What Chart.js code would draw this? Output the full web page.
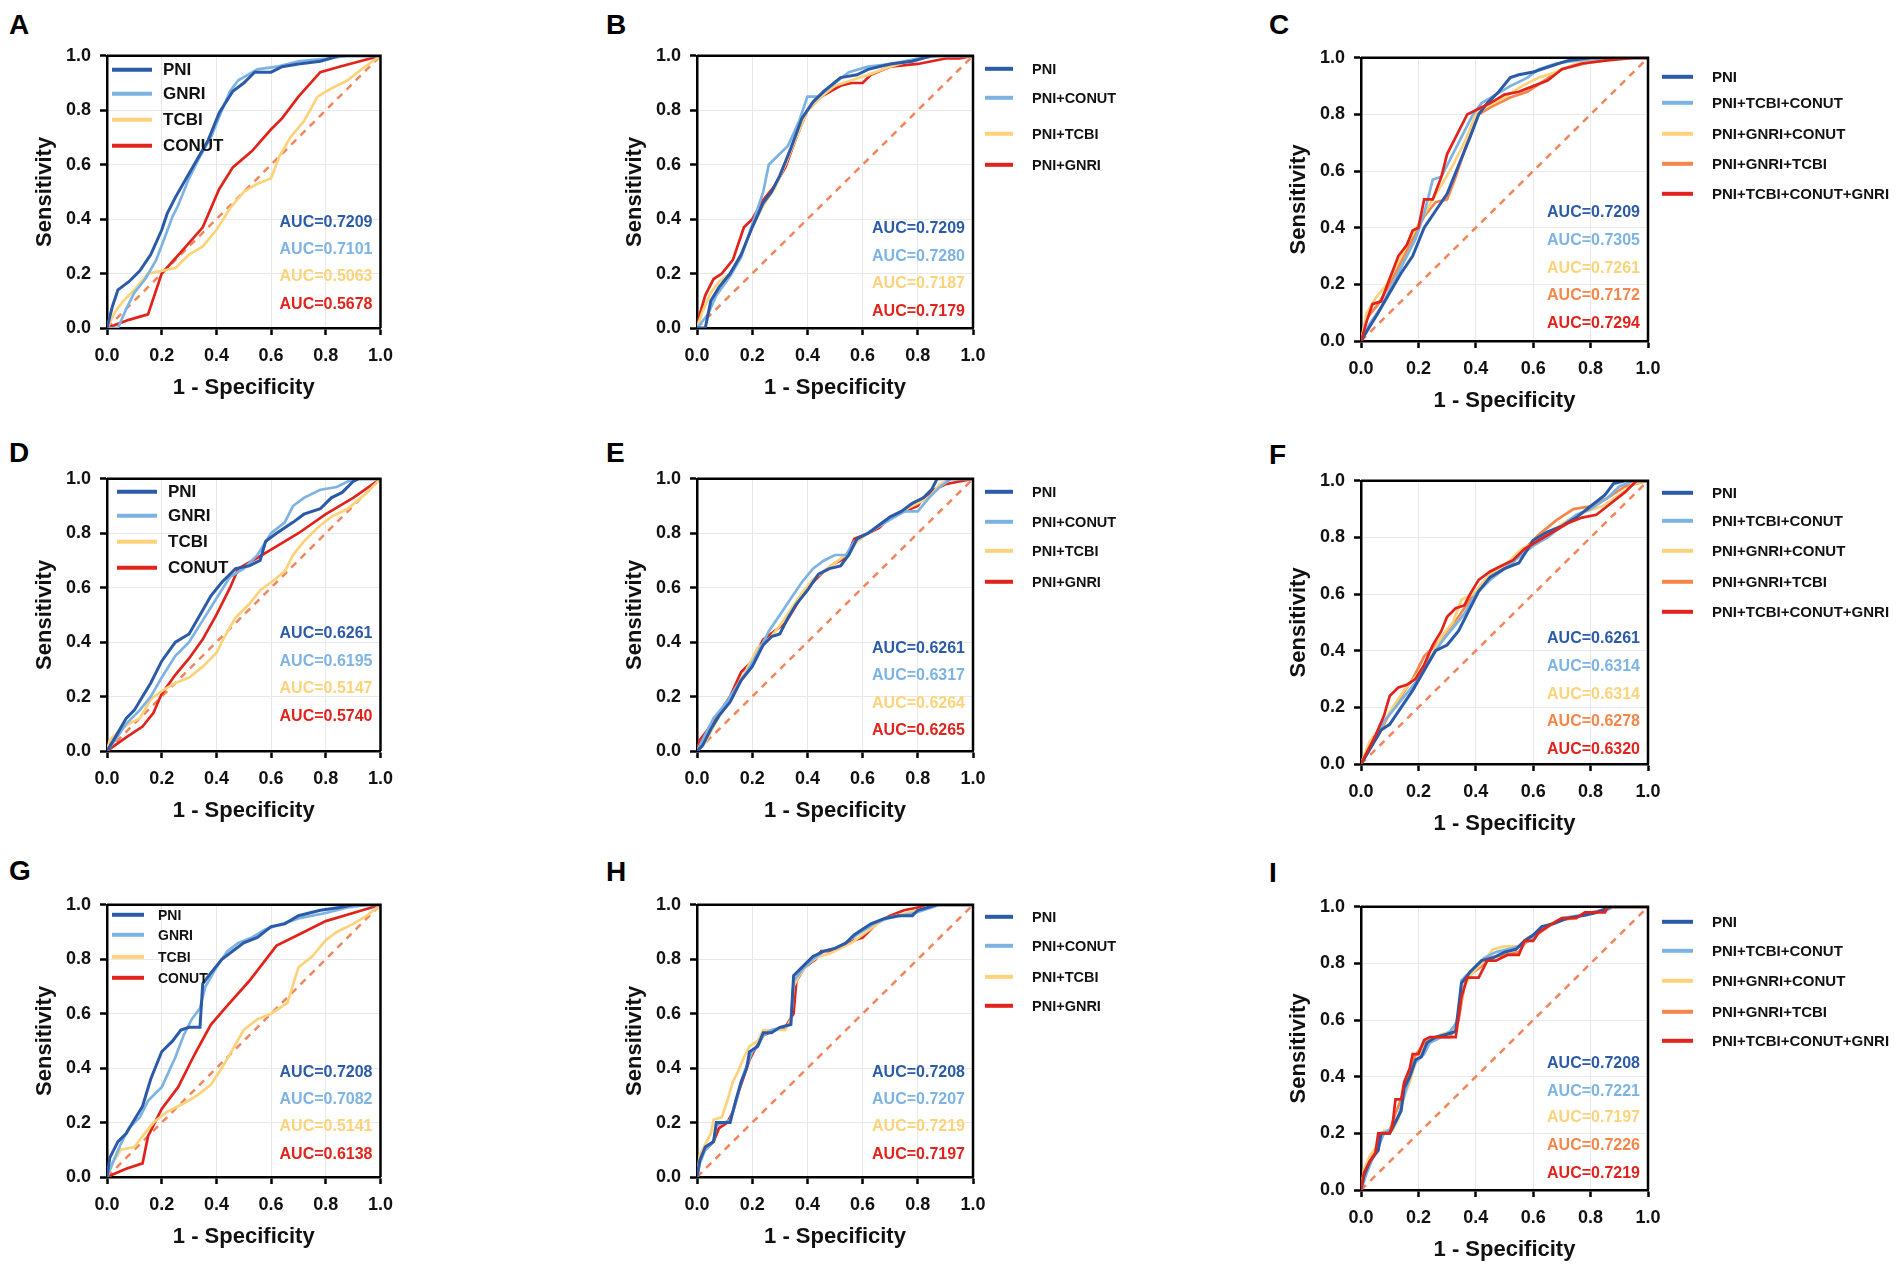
<!DOCTYPE html>
<html>
<head>
<meta charset="utf-8">
<script src="https://cdn.jsdelivr.net/npm/chart.js@4.4.1/dist/chart.umd.min.js"></script>
<style>
body { margin: 0; background: #fff; width: 1901px; height: 1273px; position: relative; overflow: hidden; font-family: Arial, "Liberation Sans", sans-serif; }
canvas { position: absolute; }
.tag { position: absolute; font-weight: bold; font-size: 28px; line-height: 28px; color: #000; }
</style>
</head>
<body>
<script>
// Series names for the three kinds of panels
const namesSingle = ['PNI', 'GNRI', 'TCBI', 'CONUT'];
const namesPair = ['PNI', 'PNI+CONUT', 'PNI+TCBI', 'PNI+GNRI'];
const namesMulti = ['PNI', 'PNI+TCBI+CONUT', 'PNI+GNRI+CONUT', 'PNI+GNRI+TCBI', 'PNI+TCBI+CONUT+GNRI'];

// AUC values printed on each panel
const aucA = ['0.7209', '0.7101', '0.5063', '0.5678'];
const aucB = ['0.7209', '0.7280', '0.7187', '0.7179'];
const aucC = ['0.7209', '0.7305', '0.7261', '0.7172', '0.7294'];
const aucD = ['0.6261', '0.6195', '0.5147', '0.5740'];
const aucE = ['0.6261', '0.6317', '0.6264', '0.6265'];
const aucF = ['0.6261', '0.6314', '0.6314', '0.6278', '0.6320'];
const aucG = ['0.7208', '0.7082', '0.5141', '0.6138'];
const aucH = ['0.7208', '0.7207', '0.7219', '0.7197'];
const aucI = ['0.7208', '0.7221', '0.7197', '0.7226', '0.7219'];

const tickValues = [0, 0.2, 0.4, 0.6, 0.8, 1.0];
const diagonal = [[0, 0], [1, 1]];

// ROC points [1 - specificity, sensitivity]
const A_pni = [[0,0],[0.02,0.08],[0.04,0.14],[0.08,0.17],[0.12,0.21],[0.16,0.27],[0.2,0.36],[0.22,0.42],[0.25,0.48],[0.29,0.55],[0.33,0.62],[0.37,0.69],[0.41,0.79],[0.46,0.87],[0.5,0.9],[0.54,0.94],[0.6,0.94],[0.64,0.96],[0.7,0.97],[0.78,0.98],[0.85,1],[1,1]];
const A_gnri = [[0,0],[0.04,0],[0.07,0.07],[0.1,0.13],[0.14,0.18],[0.18,0.25],[0.21,0.33],[0.24,0.41],[0.26,0.45],[0.3,0.55],[0.34,0.63],[0.38,0.7],[0.42,0.8],[0.45,0.87],[0.48,0.91],[0.55,0.95],[0.62,0.96],[0.7,0.98],[0.8,0.99],[0.88,1],[1,1]];
const A_tcbi = [[0,0],[0.03,0.06],[0.06,0.1],[0.1,0.14],[0.15,0.2],[0.2,0.21],[0.25,0.22],[0.3,0.27],[0.35,0.3],[0.4,0.36],[0.45,0.44],[0.5,0.5],[0.55,0.53],[0.6,0.55],[0.63,0.63],[0.67,0.7],[0.72,0.76],[0.77,0.85],[0.82,0.88],[0.88,0.91],[0.93,0.95],[1,1]];
const A_conut = [[0,0],[0.08,0.03],[0.15,0.05],[0.2,0.2],[0.28,0.29],[0.35,0.37],[0.41,0.51],[0.46,0.59],[0.53,0.65],[0.6,0.73],[0.64,0.77],[0.7,0.85],[0.78,0.94],[0.85,0.96],[1,1]];

const B_pni = [[0,0],[0.03,0],[0.05,0.1],[0.08,0.15],[0.12,0.2],[0.16,0.27],[0.2,0.37],[0.24,0.46],[0.27,0.5],[0.3,0.56],[0.34,0.66],[0.38,0.77],[0.42,0.83],[0.46,0.87],[0.52,0.92],[0.58,0.93],[0.62,0.95],[0.7,0.97],[0.78,0.98],[0.85,1],[1,1]];
const B_conut = [[0,0],[0.04,0.05],[0.07,0.12],[0.12,0.19],[0.16,0.26],[0.2,0.38],[0.24,0.5],[0.26,0.6],[0.29,0.63],[0.33,0.67],[0.37,0.76],[0.4,0.85],[0.44,0.85],[0.5,0.9],[0.55,0.94],[0.62,0.96],[0.7,0.97],[0.8,0.99],[0.88,1],[1,1]];
const B_tcbi = [[0,0],[0.02,0.06],[0.05,0.13],[0.08,0.17],[0.12,0.2],[0.16,0.27],[0.2,0.37],[0.24,0.45],[0.28,0.51],[0.32,0.6],[0.36,0.7],[0.4,0.8],[0.45,0.85],[0.5,0.89],[0.56,0.91],[0.62,0.93],[0.7,0.96],[0.8,0.99],[0.83,1],[1,1]];
const B_gnri = [[0,0],[0.01,0.05],[0.03,0.12],[0.06,0.18],[0.09,0.2],[0.13,0.25],[0.17,0.37],[0.2,0.4],[0.24,0.47],[0.28,0.52],[0.32,0.59],[0.36,0.7],[0.4,0.8],[0.45,0.85],[0.52,0.89],[0.56,0.9],[0.6,0.9],[0.63,0.93],[0.7,0.96],[0.8,0.97],[0.9,0.99],[0.95,0.99],[1,1]];

const C_pni = [[0,0],[0.03,0.05],[0.06,0.1],[0.1,0.17],[0.14,0.24],[0.18,0.3],[0.22,0.4],[0.26,0.46],[0.3,0.52],[0.34,0.62],[0.38,0.72],[0.41,0.8],[0.44,0.84],[0.48,0.88],[0.52,0.93],[0.55,0.94],[0.6,0.95],[0.66,0.97],[0.72,0.99],[0.8,1],[1,1]];
const C_tcbiConut = [[0,0],[0.03,0.06],[0.07,0.12],[0.11,0.2],[0.15,0.28],[0.19,0.36],[0.22,0.45],[0.25,0.57],[0.28,0.58],[0.31,0.64],[0.35,0.72],[0.39,0.8],[0.42,0.84],[0.47,0.87],[0.52,0.9],[0.58,0.93],[0.62,0.96],[0.68,0.98],[0.75,0.99],[0.85,1],[1,1]];
const C_gnriConut = [[0,0],[0.02,0.1],[0.05,0.15],[0.09,0.2],[0.13,0.28],[0.17,0.36],[0.21,0.43],[0.25,0.5],[0.28,0.55],[0.32,0.62],[0.36,0.7],[0.4,0.8],[0.44,0.83],[0.5,0.86],[0.56,0.9],[0.62,0.93],[0.68,0.95],[0.75,0.98],[0.85,1],[1,1]];
const C_gnriTcbi = [[0,0],[0.02,0.08],[0.06,0.13],[0.1,0.2],[0.14,0.28],[0.18,0.36],[0.22,0.44],[0.26,0.49],[0.3,0.5],[0.33,0.58],[0.37,0.7],[0.41,0.8],[0.46,0.83],[0.52,0.86],[0.58,0.88],[0.64,0.92],[0.7,0.96],[0.78,0.98],[0.9,1],[1,1]];
const C_all = [[0,0],[0.02,0.07],[0.04,0.13],[0.07,0.14],[0.1,0.22],[0.13,0.3],[0.16,0.34],[0.18,0.39],[0.2,0.4],[0.22,0.5],[0.25,0.5],[0.28,0.58],[0.3,0.66],[0.33,0.72],[0.37,0.8],[0.41,0.82],[0.45,0.84],[0.5,0.87],[0.55,0.88],[0.6,0.9],[0.65,0.92],[0.7,0.96],[0.77,0.98],[0.85,0.99],[0.95,1],[1,1]];

const D_pni = [[0,0],[0.03,0.05],[0.07,0.12],[0.1,0.15],[0.13,0.2],[0.16,0.25],[0.2,0.33],[0.25,0.4],[0.3,0.43],[0.34,0.5],[0.38,0.57],[0.42,0.62],[0.47,0.67],[0.52,0.68],[0.56,0.7],[0.58,0.77],[0.62,0.8],[0.68,0.84],[0.72,0.87],[0.78,0.89],[0.82,0.93],[0.86,0.95],[0.9,0.99],[0.92,1],[1,1]];
const D_gnri = [[0,0],[0.03,0.04],[0.07,0.1],[0.12,0.15],[0.16,0.2],[0.2,0.27],[0.25,0.35],[0.3,0.4],[0.35,0.48],[0.4,0.56],[0.45,0.64],[0.5,0.67],[0.55,0.72],[0.6,0.8],[0.65,0.84],[0.68,0.9],[0.72,0.93],[0.78,0.96],[0.84,0.97],[0.88,0.99],[0.92,1],[1,1]];
const D_tcbi = [[0,0],[0.01,0.04],[0.05,0.08],[0.08,0.1],[0.12,0.12],[0.16,0.19],[0.2,0.22],[0.25,0.25],[0.3,0.27],[0.35,0.31],[0.4,0.36],[0.43,0.42],[0.47,0.49],[0.52,0.54],[0.56,0.59],[0.6,0.62],[0.65,0.66],[0.68,0.72],[0.72,0.77],[0.77,0.82],[0.82,0.86],[0.88,0.89],[0.94,0.94],[1,1]];
const D_conut = [[0,0],[0.07,0.05],[0.13,0.09],[0.17,0.14],[0.2,0.21],[0.25,0.28],[0.3,0.34],[0.35,0.41],[0.4,0.5],[0.45,0.6],[0.48,0.67],[0.55,0.71],[0.6,0.74],[0.7,0.8],[0.8,0.87],[0.9,0.93],[1,1]];

const E_pni = [[0,0],[0.02,0.02],[0.05,0.08],[0.08,0.13],[0.12,0.18],[0.16,0.26],[0.2,0.31],[0.24,0.39],[0.27,0.42],[0.3,0.43],[0.33,0.49],[0.36,0.54],[0.4,0.59],[0.44,0.65],[0.48,0.67],[0.52,0.68],[0.55,0.72],[0.58,0.78],[0.62,0.8],[0.66,0.83],[0.7,0.86],[0.74,0.88],[0.78,0.91],[0.82,0.93],[0.85,0.96],[0.87,1],[1,1]];
const E_conut = [[0,0],[0.03,0.06],[0.06,0.12],[0.1,0.17],[0.14,0.23],[0.18,0.29],[0.22,0.36],[0.26,0.44],[0.3,0.5],[0.34,0.56],[0.38,0.62],[0.42,0.67],[0.46,0.7],[0.5,0.72],[0.54,0.72],[0.57,0.77],[0.6,0.79],[0.65,0.82],[0.7,0.85],[0.75,0.88],[0.8,0.88],[0.84,0.93],[0.88,0.97],[0.92,1],[1,1]];
const E_tcbi = [[0,0],[0.03,0.03],[0.06,0.09],[0.1,0.16],[0.14,0.23],[0.18,0.3],[0.22,0.38],[0.26,0.41],[0.3,0.46],[0.34,0.52],[0.38,0.58],[0.42,0.63],[0.46,0.66],[0.5,0.69],[0.55,0.73],[0.58,0.77],[0.62,0.8],[0.68,0.84],[0.72,0.87],[0.78,0.9],[0.84,0.93],[0.88,0.98],[0.92,1],[1,1]];
const E_gnri = [[0,0],[0.01,0.04],[0.04,0.08],[0.08,0.14],[0.12,0.2],[0.16,0.29],[0.2,0.33],[0.24,0.41],[0.28,0.44],[0.32,0.47],[0.35,0.52],[0.38,0.57],[0.42,0.62],[0.46,0.66],[0.5,0.69],[0.54,0.71],[0.57,0.78],[0.62,0.8],[0.66,0.82],[0.7,0.86],[0.75,0.88],[0.8,0.9],[0.82,0.93],[0.86,0.96],[0.9,0.98],[0.95,0.99],[1,1]];

const F_pni = [[0,0],[0.03,0.05],[0.07,0.12],[0.1,0.14],[0.14,0.2],[0.18,0.26],[0.22,0.33],[0.26,0.4],[0.3,0.42],[0.34,0.47],[0.37,0.53],[0.41,0.61],[0.45,0.66],[0.5,0.69],[0.55,0.71],[0.6,0.79],[0.65,0.82],[0.7,0.84],[0.75,0.87],[0.8,0.91],[0.85,0.95],[0.88,0.99],[0.92,1],[1,1]];
const F_tcbiConut = [[0,0],[0.04,0.07],[0.08,0.15],[0.12,0.2],[0.16,0.25],[0.2,0.3],[0.24,0.37],[0.28,0.43],[0.32,0.48],[0.36,0.53],[0.4,0.6],[0.45,0.65],[0.5,0.69],[0.55,0.73],[0.6,0.77],[0.65,0.8],[0.7,0.84],[0.75,0.88],[0.8,0.9],[0.86,0.94],[0.9,0.98],[0.95,1],[1,1]];
const F_gnriConut = [[0,0],[0.03,0.08],[0.07,0.13],[0.11,0.2],[0.15,0.26],[0.2,0.32],[0.25,0.39],[0.28,0.45],[0.32,0.5],[0.35,0.58],[0.39,0.6],[0.44,0.66],[0.5,0.7],[0.56,0.76],[0.6,0.78],[0.66,0.82],[0.72,0.86],[0.78,0.89],[0.84,0.91],[0.9,0.95],[0.95,0.99],[1,1]];
const F_gnriTcbi = [[0,0],[0.03,0.06],[0.06,0.1],[0.1,0.18],[0.14,0.24],[0.18,0.3],[0.22,0.38],[0.26,0.42],[0.3,0.47],[0.34,0.52],[0.38,0.58],[0.42,0.63],[0.46,0.68],[0.52,0.7],[0.56,0.75],[0.62,0.81],[0.68,0.86],[0.74,0.9],[0.8,0.91],[0.86,0.94],[0.92,0.98],[1,1]];
const F_all = [[0,0],[0.02,0.04],[0.05,0.1],[0.08,0.17],[0.1,0.24],[0.13,0.27],[0.16,0.28],[0.19,0.3],[0.22,0.35],[0.25,0.42],[0.28,0.47],[0.3,0.52],[0.33,0.55],[0.36,0.56],[0.38,0.6],[0.41,0.65],[0.45,0.68],[0.49,0.7],[0.53,0.72],[0.57,0.76],[0.62,0.79],[0.67,0.82],[0.72,0.85],[0.77,0.87],[0.82,0.88],[0.87,0.92],[0.92,0.96],[0.96,1],[1,1]];

const G_pni = [[0,0],[0.01,0.07],[0.04,0.13],[0.07,0.16],[0.1,0.21],[0.13,0.26],[0.16,0.36],[0.2,0.46],[0.24,0.5],[0.27,0.54],[0.3,0.55],[0.34,0.55],[0.35,0.71],[0.38,0.75],[0.42,0.8],[0.46,0.83],[0.5,0.86],[0.55,0.88],[0.6,0.92],[0.65,0.93],[0.7,0.96],[0.78,0.98],[0.85,0.99],[0.9,1],[1,1]];
const G_gnri = [[0,0],[0.02,0.05],[0.05,0.12],[0.08,0.18],[0.12,0.22],[0.15,0.28],[0.2,0.33],[0.25,0.44],[0.28,0.52],[0.31,0.58],[0.34,0.62],[0.36,0.7],[0.4,0.77],[0.44,0.83],[0.48,0.86],[0.53,0.88],[0.58,0.91],[0.64,0.93],[0.7,0.95],[0.8,0.97],[0.88,0.99],[0.95,1],[1,1]];
const G_tcbi = [[0,0],[0.02,0.05],[0.05,0.1],[0.1,0.11],[0.13,0.15],[0.17,0.2],[0.22,0.24],[0.28,0.27],[0.33,0.3],[0.38,0.34],[0.42,0.4],[0.46,0.47],[0.5,0.54],[0.55,0.58],[0.6,0.6],[0.66,0.64],[0.7,0.77],[0.75,0.81],[0.8,0.87],[0.84,0.9],[0.9,0.93],[0.95,0.96],[1,1]];
const G_conut = [[0,0],[0.07,0.03],[0.13,0.05],[0.15,0.15],[0.2,0.25],[0.26,0.33],[0.32,0.45],[0.38,0.56],[0.44,0.63],[0.52,0.72],[0.62,0.85],[0.7,0.89],[0.8,0.94],[0.9,0.97],[1,1]];

const H_pni = [[0,0],[0.01,0.06],[0.03,0.11],[0.06,0.13],[0.07,0.2],[0.1,0.2],[0.12,0.2],[0.14,0.28],[0.16,0.35],[0.18,0.4],[0.19,0.46],[0.22,0.48],[0.24,0.53],[0.27,0.53],[0.3,0.55],[0.34,0.56],[0.35,0.74],[0.38,0.77],[0.42,0.81],[0.46,0.83],[0.5,0.84],[0.54,0.86],[0.57,0.89],[0.6,0.91],[0.63,0.93],[0.68,0.95],[0.73,0.96],[0.78,0.96],[0.8,0.98],[0.87,1],[1,1]];
const H_conut = [[0,0],[0.01,0.05],[0.03,0.1],[0.06,0.13],[0.07,0.19],[0.1,0.2],[0.12,0.21],[0.14,0.27],[0.16,0.35],[0.18,0.41],[0.2,0.46],[0.22,0.48],[0.24,0.52],[0.27,0.54],[0.31,0.55],[0.34,0.56],[0.35,0.72],[0.38,0.76],[0.42,0.8],[0.46,0.83],[0.5,0.84],[0.54,0.86],[0.58,0.89],[0.61,0.91],[0.64,0.93],[0.69,0.95],[0.74,0.96],[0.79,0.97],[0.82,0.98],[0.88,1],[1,1]];
const H_tcbi = [[0,0],[0.01,0.08],[0.03,0.12],[0.05,0.16],[0.06,0.21],[0.09,0.22],[0.11,0.28],[0.13,0.35],[0.15,0.39],[0.17,0.44],[0.19,0.48],[0.22,0.5],[0.24,0.54],[0.28,0.54],[0.32,0.54],[0.34,0.58],[0.35,0.7],[0.37,0.74],[0.4,0.78],[0.44,0.81],[0.48,0.82],[0.52,0.84],[0.56,0.86],[0.6,0.89],[0.64,0.92],[0.68,0.95],[0.72,0.96],[0.76,0.97],[0.8,0.98],[0.86,1],[1,1]];
const H_gnri = [[0,0],[0.01,0.07],[0.03,0.1],[0.06,0.13],[0.08,0.18],[0.11,0.2],[0.13,0.24],[0.15,0.31],[0.17,0.37],[0.19,0.43],[0.21,0.47],[0.24,0.52],[0.28,0.54],[0.32,0.55],[0.35,0.6],[0.36,0.72],[0.39,0.77],[0.43,0.8],[0.45,0.83],[0.49,0.83],[0.53,0.85],[0.57,0.87],[0.6,0.88],[0.63,0.91],[0.66,0.94],[0.7,0.96],[0.75,0.98],[0.8,0.99],[0.85,1],[1,1]];

const I_pni = [[0,0],[0.01,0.05],[0.03,0.1],[0.06,0.14],[0.07,0.2],[0.1,0.2],[0.12,0.24],[0.14,0.28],[0.15,0.36],[0.17,0.4],[0.19,0.46],[0.21,0.47],[0.23,0.52],[0.26,0.54],[0.3,0.55],[0.33,0.56],[0.35,0.73],[0.38,0.77],[0.42,0.81],[0.46,0.82],[0.5,0.84],[0.54,0.85],[0.57,0.88],[0.6,0.9],[0.63,0.93],[0.67,0.94],[0.72,0.96],[0.78,0.97],[0.82,0.98],[0.87,1],[1,1]];
const I_tcbiConut = [[0,0],[0.02,0.06],[0.04,0.11],[0.06,0.15],[0.08,0.2],[0.11,0.22],[0.13,0.26],[0.15,0.33],[0.17,0.4],[0.19,0.45],[0.22,0.48],[0.24,0.52],[0.28,0.54],[0.31,0.56],[0.34,0.6],[0.35,0.74],[0.39,0.78],[0.43,0.82],[0.47,0.84],[0.51,0.85],[0.55,0.86],[0.58,0.88],[0.62,0.91],[0.65,0.93],[0.7,0.96],[0.76,0.97],[0.8,0.98],[0.86,0.99],[0.88,1],[1,1]];
const I_gnriConut = [[0,0],[0.01,0.07],[0.03,0.12],[0.06,0.16],[0.08,0.21],[0.11,0.21],[0.13,0.25],[0.15,0.33],[0.17,0.38],[0.19,0.45],[0.21,0.49],[0.24,0.53],[0.28,0.55],[0.32,0.56],[0.34,0.62],[0.36,0.72],[0.39,0.77],[0.43,0.81],[0.46,0.85],[0.5,0.86],[0.55,0.86],[0.58,0.89],[0.62,0.91],[0.66,0.94],[0.71,0.96],[0.77,0.97],[0.82,0.98],[0.86,1],[1,1]];
const I_gnriTcbi = [[0,0],[0.01,0.06],[0.03,0.11],[0.05,0.14],[0.07,0.2],[0.1,0.21],[0.12,0.27],[0.14,0.32],[0.16,0.38],[0.18,0.46],[0.2,0.49],[0.23,0.53],[0.27,0.54],[0.31,0.54],[0.34,0.6],[0.36,0.72],[0.38,0.76],[0.42,0.79],[0.45,0.82],[0.5,0.83],[0.55,0.84],[0.57,0.87],[0.61,0.9],[0.64,0.92],[0.68,0.95],[0.74,0.96],[0.8,0.98],[0.85,0.99],[0.87,1],[1,1]];
const I_all = [[0,0],[0.01,0.06],[0.03,0.1],[0.05,0.13],[0.06,0.2],[0.1,0.2],[0.11,0.23],[0.12,0.32],[0.14,0.32],[0.15,0.38],[0.17,0.43],[0.18,0.48],[0.2,0.48],[0.22,0.53],[0.24,0.54],[0.28,0.54],[0.33,0.54],[0.35,0.68],[0.37,0.75],[0.41,0.75],[0.44,0.81],[0.47,0.81],[0.51,0.83],[0.55,0.83],[0.57,0.88],[0.6,0.88],[0.62,0.91],[0.65,0.93],[0.7,0.96],[0.75,0.96],[0.78,0.98],[0.85,0.98],[0.86,1],[1,1]];

// Colours
const darkBlue = '#2b5ba8';
const lightBlue = '#7db3e3';
const yellow = '#fcd37a';
const orange = '#f5864a';
const red = '#e2231b';
const diagColor = '#f4845a';
const colors4 = [darkBlue, lightBlue, yellow, red];
const colors5 = [darkBlue, lightBlue, yellow, orange, red];

const FONT = 'Arial, "Liberation Sans", sans-serif';

// Panel layout: plot box [left, top, width, height], legend and AUC placement
const panels = [
  { tag: 'A', tagPos: [9, 11], plot: [107, 51, 276, 277], padR: 20, names: namesSingle, colors: colors4, auc: aucA,
    series: [A_pni, A_gnri, A_tcbi, A_conut], top: 0,
    legend: { inside: true, lineX: 5, lineLen: 40, textX: 56, font: 17, rows: [14, 38, 64, 90] }, aucRows: [-105, -78, -51, -23] },
  { tag: 'B', tagPos: [606, 11], plot: [697, 51, 276, 277], padR: 200, names: namesPair, colors: colors4, auc: aucB,
    series: [B_pni, B_conut, B_tcbi, B_gnri], top: 0,
    legend: { inside: false, lineX: 12, lineLen: 28, textX: 59, font: 14.5, rows: [13, 42, 78, 109] }, aucRows: [-99, -71, -44, -16] },
  { tag: 'C', tagPos: [1269, 11], plot: [1361, 53, 287, 288], padR: 253, names: namesMulti, colors: colors5, auc: aucC,
    series: [C_pni, C_tcbiConut, C_gnriConut, C_gnriTcbi, C_all], top: 4,
    legend: { inside: false, lineX: 14, lineLen: 31, textX: 64, font: 15, rows: [19, 45, 76, 106, 136] }, aucRows: [-128, -100, -72, -45, -17] },
  { tag: 'D', tagPos: [9, 439], plot: [107, 474, 276, 277], padR: 20, names: namesSingle, colors: colors4, auc: aucD,
    series: [D_pni, D_gnri, D_tcbi, D_conut], top: 0,
    legend: { inside: true, lineX: 10, lineLen: 40, textX: 61, font: 17, rows: [13, 37, 63, 89] }, aucRows: [-117, -89, -62, -34] },
  { tag: 'E', tagPos: [606, 439], plot: [697, 474, 276, 277], padR: 200, names: namesPair, colors: colors4, auc: aucE,
    series: [E_pni, E_conut, E_tcbi, E_gnri], top: 0,
    legend: { inside: false, lineX: 12, lineLen: 28, textX: 59, font: 14.5, rows: [13, 43, 72, 103] }, aucRows: [-102, -75, -47, -20] },
  { tag: 'F', tagPos: [1269, 441], plot: [1361, 476, 287, 288], padR: 253, names: namesMulti, colors: colors5, auc: aucF,
    series: [F_pni, F_tcbiConut, F_gnriConut, F_gnriTcbi, F_all], top: 4,
    legend: { inside: false, lineX: 14, lineLen: 31, textX: 64, font: 15, rows: [12, 40, 70, 101, 131] }, aucRows: [-125, -97, -69, -42, -14] },
  { tag: 'G', tagPos: [9, 857], plot: [107, 900, 276, 277], padR: 20, names: namesSingle, colors: colors4, auc: aucG,
    series: [G_pni, G_gnri, G_tcbi, G_conut], top: 0,
    legend: { inside: true, lineX: 5, lineLen: 32, textX: 51, font: 14, rows: [10, 30, 52, 73] }, aucRows: [-104, -77, -50, -22] },
  { tag: 'H', tagPos: [606, 858], plot: [697, 900, 276, 277], padR: 200, names: namesPair, colors: colors4, auc: aucH,
    series: [H_pni, H_conut, H_tcbi, H_gnri], top: 0,
    legend: { inside: false, lineX: 12, lineLen: 28, textX: 59, font: 14.5, rows: [12, 41, 72, 101] }, aucRows: [-104, -77, -50, -22] },
  { tag: 'I', tagPos: [1269, 859], plot: [1361, 902, 287, 288], padR: 253, names: namesMulti, colors: colors5, auc: aucI,
    series: [I_pni, I_tcbiConut, I_gnriConut, I_gnriTcbi, I_all], top: 4,
    legend: { inside: false, lineX: 14, lineLen: 31, textX: 64, font: 15, rows: [15, 44, 74, 105, 134] }, aucRows: [-126, -98, -72, -44, -16] }
];

// Plugin: closes the frame, draws the legend and the AUC labels
const rocDecor = {
  id: 'rocDecor',
  afterDatasetsDraw(chart, args, o) {
    const ctx = chart.ctx;
    const a = chart.chartArea;
    ctx.save();
    ctx.strokeStyle = '#000';
    ctx.lineWidth = 2.5;
    ctx.beginPath();
    ctx.moveTo(a.left, a.top);
    ctx.lineTo(a.right, a.top);
    ctx.lineTo(a.right, a.bottom);
    ctx.stroke();

    const lg = o.legend;
    const base = lg.inside ? a.left : a.right;
    ctx.textBaseline = 'middle';
    o.names.forEach((name, i) => {
      const y = a.top + lg.rows[i];
      ctx.strokeStyle = o.colors[i];
      ctx.lineWidth = 4;
      ctx.beginPath();
      ctx.moveTo(base + lg.lineX, y);
      ctx.lineTo(base + lg.lineX + lg.lineLen, y);
      ctx.stroke();
      ctx.fillStyle = '#111';
      ctx.textAlign = 'left';
      ctx.font = 'bold ' + lg.font + 'px ' + FONT;
      ctx.fillText(name, base + lg.textX, y + 1);
    });

    ctx.textAlign = 'right';
    ctx.font = 'bold 16px ' + FONT;
    o.auc.forEach((v, i) => {
      ctx.fillStyle = o.colors[i];
      ctx.fillText('AUC=' + v, a.right - 8, a.bottom + o.aucRows[i]);
    });
    ctx.restore();
  }
};
Chart.register(rocDecor);

function axis(title, dir) {
  return {
    type: 'linear',
    min: 0,
    max: 1,
    afterFit: s => { if (dir === 'x') s.height = 80; else s.width = 95; },
    afterBuildTicks: s => { s.ticks = tickValues.map(v => ({ value: v })); },
    ticks: {
      autoSkip: false, maxRotation: 0, color: '#111',
      padding: dir === 'x' ? 10 : 9,
      font: { family: FONT, size: 18, weight: 'bold' },
      callback: v => Number(v).toFixed(1)
    },
    grid: { color: '#e8e8e8', lineWidth: 1, tickLength: 7, tickColor: '#000', tickWidth: 2.5 },
    border: { color: '#000', width: 2.5 },
    title: {
      display: true, text: title, color: '#111',
      font: { family: FONT, size: 22, weight: 'bold' },
      padding: dir === 'x' ? { top: 0, bottom: 7 } : { top: 20, bottom: 0 }
    }
  };
}

function toPoints(arr) {
  return arr.map(p => ({ x: p[0], y: p[1] }));
}

panels.forEach(p => {
  const tag = document.createElement('div');
  tag.className = 'tag';
  tag.textContent = p.tag;
  tag.style.left = p.tagPos[0] + 'px';
  tag.style.top = p.tagPos[1] + 'px';
  document.body.appendChild(tag);

  const [pl, pt, pw, ph] = p.plot;
  const W = 95 + pw + p.padR;
  const H = 15 + ph + 80;
  const cv = document.createElement('canvas');
  cv.width = W;
  cv.height = H;
  cv.style.left = (pl - 95) + 'px';
  cv.style.top = (pt - 15) + 'px';
  cv.style.width = W + 'px';
  cv.style.height = H + 'px';
  document.body.appendChild(cv);

  const datasets = p.series.map((s, i) => ({
    data: toPoints(s),
    showLine: true,
    borderColor: p.colors[i],
    borderWidth: i === 0 ? 3 : 2.7,
    pointRadius: 0,
    fill: false,
    order: i === p.top ? -1 : i
  }));
  datasets.push({
    data: toPoints(diagonal),
    showLine: true,
    borderColor: diagColor,
    borderWidth: 2.5,
    borderDash: [7, 6],
    pointRadius: 0,
    order: 99
  });

  new Chart(cv, {
    type: 'scatter',
    data: { datasets },
    options: {
      responsive: false,
      animation: false,
      layout: { padding: { left: 0, top: 15, right: p.padR, bottom: 0 } },
      plugins: {
        legend: { display: false },
        tooltip: { enabled: false },
        rocDecor: { names: p.names, colors: p.colors, auc: p.auc, legend: p.legend, aucRows: p.aucRows }
      },
      scales: { x: axis('1 - Specificity', 'x'), y: axis('Sensitivity', 'y') }
    }
  });
});
</script>
</body>
</html>
